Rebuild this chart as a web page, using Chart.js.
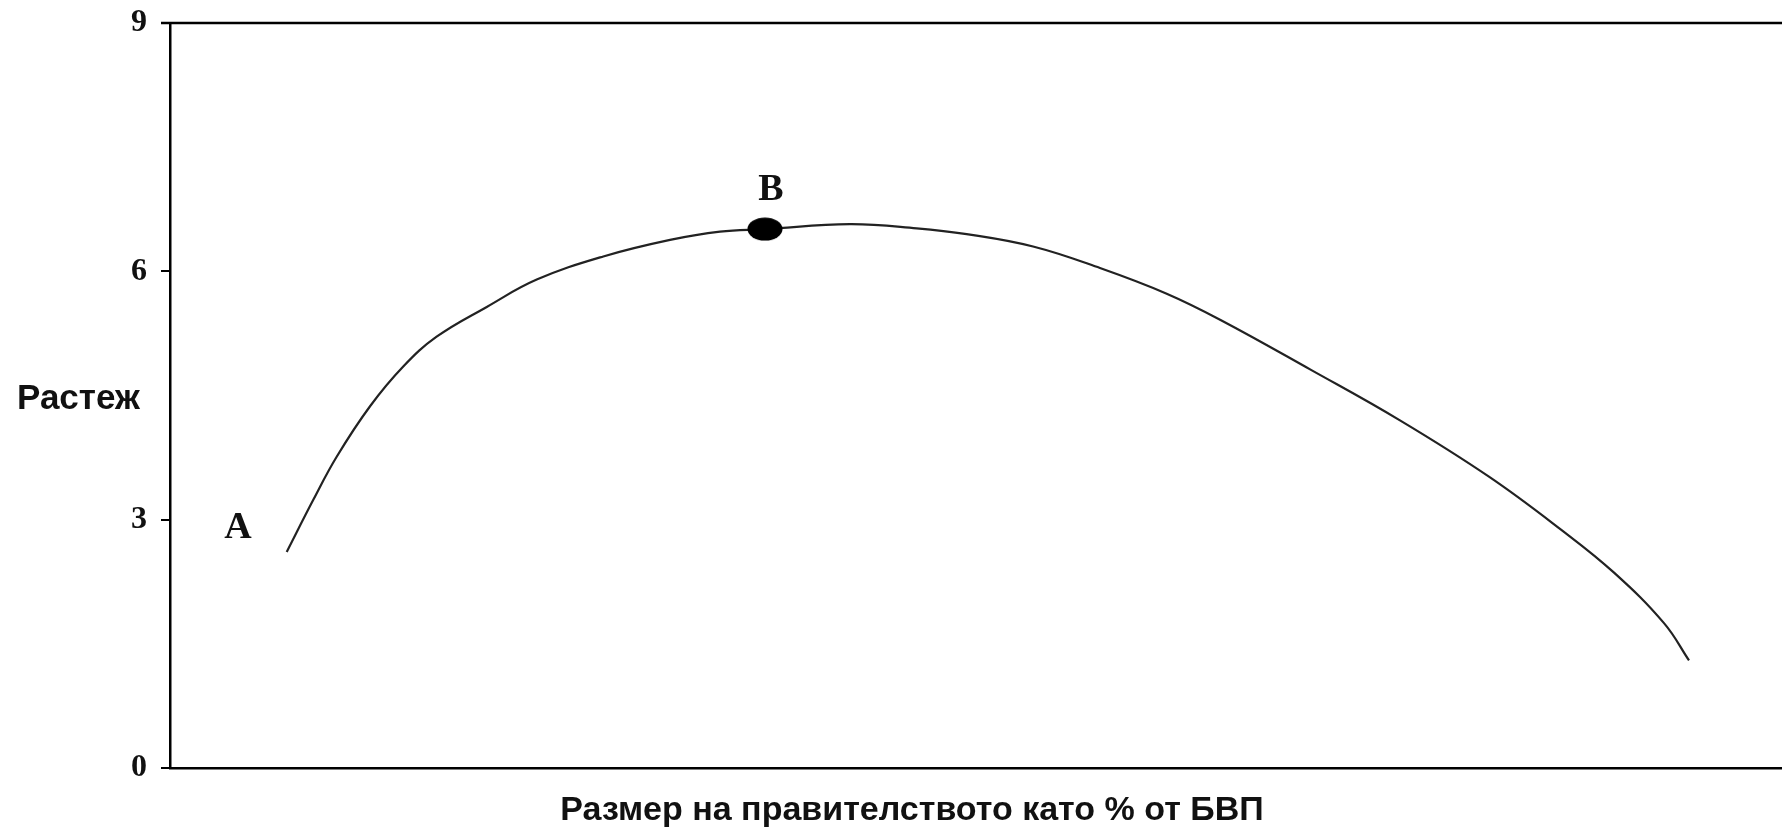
<!DOCTYPE html>
<html>
<head>
<meta charset="utf-8">
<script src="https://cdn.jsdelivr.net/npm/chart.js@4/dist/chart.umd.min.js"></script>
<style>
  html, body { margin: 0; padding: 0; background: #fff; overflow: hidden; }
  #wrap { width: 1782px; height: 827px; position: relative; }
</style>
</head>
<body>
<div id="wrap"><canvas id="curveChart"></canvas></div>
<script>
// curve: government size (% of GDP) vs growth
const govSize = [7.24, 8.89, 10.34, 12.41, 14.47, 16.54, 19.65, 22.75, 26.88, 31.02, 34.12, 36.91,
                 42.18, 46.32, 49.42, 53.54, 57.69, 61.83, 65.20, 70.78, 76.30, 81.82, 86.29, 89.58, 92.68, 94.23];
const growth  = [2.61, 3.24, 3.76, 4.37, 4.85, 5.21, 5.57, 5.90, 6.18, 6.38, 6.48, 6.51,
                 6.57, 6.52, 6.45, 6.30, 6.04, 5.73, 5.41, 4.81, 4.20, 3.52, 2.88, 2.36, 1.75, 1.30];

// optimum point B
const optimumX = [36.91];
const optimumY = [6.51];

// letter labels and where they sit (data units)
const markNames = ['A', 'B'];
const markX = [4.22, 37.28];
const markY = [2.90, 6.98];

const yTicks = [0, 3, 6, 9];
const yTitle = 'Растеж';
const xTitle = 'Размер на правителството като % от БВП';

// black ellipse used as the B marker
const dot = document.createElement('canvas');
dot.width = 36; dot.height = 24;
const dctx = dot.getContext('2d');
dctx.fillStyle = '#000';
dctx.beginPath();
dctx.ellipse(18, 12, 17.5, 11.5, 0, 0, Math.PI * 2);
dctx.fill();

const extras = {
  id: 'extras',
  afterDraw(chart) {
    const { ctx, chartArea: a, scales: { x, y } } = chart;
    ctx.save();
    // top frame line
    ctx.strokeStyle = '#000';
    ctx.lineWidth = 2.5;
    ctx.beginPath();
    ctx.moveTo(a.left - 9, a.top);
    ctx.lineTo(chart.width, a.top);
    ctx.stroke();

    ctx.fillStyle = '#111';
    ctx.textBaseline = 'middle';
    ctx.font = 'bold 38px "Liberation Serif"';
    ctx.textAlign = 'center';
    markNames.forEach((t, i) => {
      ctx.fillText(t, x.getPixelForValue(markX[i]), y.getPixelForValue(markY[i]));
    });

    ctx.font = 'bold 35px "Liberation Sans"';
    ctx.textAlign = 'left';
    ctx.fillText(yTitle, 17, 399);

    ctx.font = 'bold 34px "Liberation Sans"';
    ctx.textAlign = 'center';
    ctx.fillText(xTitle, 912, a.bottom + 43);
    ctx.restore();
  }
};

new Chart(document.getElementById('curveChart'), {
  type: 'scatter',
  data: {
    datasets: [{
      data: optimumX.map((v, i) => ({ x: v, y: optimumY[i] })),
      pointStyle: dot,
      pointRadius: 12,
      showLine: false
    }, {
      data: govSize.map((v, i) => ({ x: v, y: growth[i] })),
      showLine: true,
      borderColor: '#222',
      borderWidth: 2.2,
      pointRadius: 0,
      tension: 0.4
    }]
  },
  options: {
    responsive: true,
    maintainAspectRatio: false,
    animation: false,
    layout: { autoPadding: false, padding: { top: 23, right: 0, left: 0, bottom: 0 } },
    plugins: { legend: { display: false }, tooltip: { enabled: false } },
    scales: {
      x: {
        type: 'linear',
        min: 0,
        max: 100,
        ticks: { display: false },
        grid: { display: false },
        border: { display: true, color: '#000', width: 2.5 },
        afterFit: s => { s.height = 59; }
      },
      y: {
        min: 0,
        max: 9,
        afterBuildTicks: s => { s.ticks = yTicks.map(v => ({ value: v })); },
        ticks: {
          padding: 14,
          color: '#111',
          font: { family: 'Liberation Serif', size: 32, weight: 'bold' }
        },
        grid: { drawOnChartArea: false, drawTicks: true, tickLength: 9, color: '#000', lineWidth: 2 },
        border: { display: true, color: '#000', width: 2.5 },
        afterFit: s => { s.width = 170; s.paddingTop = 0; s.paddingBottom = 0; }
      }
    }
  },
  plugins: [extras]
});
</script>
</body>
</html>
